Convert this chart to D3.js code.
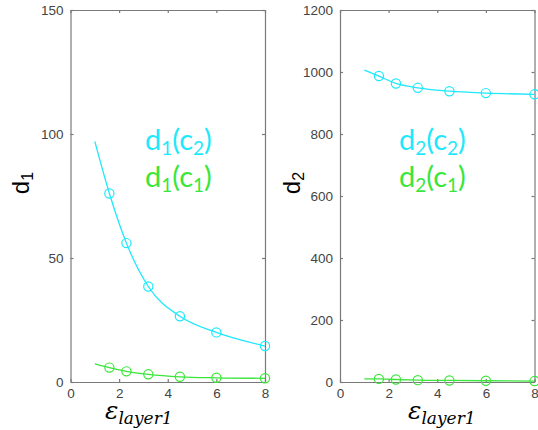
<!DOCTYPE html>
<html><head><meta charset="utf-8">
<script src="https://cdn.jsdelivr.net/npm/d3@7"></script>
<style>body{margin:0;background:#fff}svg{display:block}</style>
</head><body>
<svg id="c" width="538" height="430"></svg>
<script>
// ---- data ----
const epsX = [1.6, 2.3, 3.2, 4.5, 6, 8];
const fitX = [1, 1.6, 2.3, 3.2, 4.5, 6, 8];
const d1c2 = [76, 56, 38.5, 26.5, 20, 14.5];
const d1c1 = [5.8, 4.3, 3.1, 2.1, 1.7, 1.5];
const d1c2Fit = [97, 76, 56, 38.5, 26.5, 20, 14.5];
const d1c1Fit = [7.3, 5.8, 4.3, 3.1, 2.1, 1.7, 1.5];
const d2c2 = [987, 963, 949, 938, 932, 928];
const d2c1 = [10, 8, 6, 5, 4, 3];
const d2c2Fit = [1006, 987, 963, 949, 938, 932, 928];
const d2c1Fit = [10, 10, 8, 6, 5, 4, 3];
const xTicks = [0, 2, 4, 6, 8];
const y1Ticks = [0, 50, 100, 150];
const y2Ticks = [0, 200, 400, 600, 800, 1000, 1200];

const CYAN = "#1ee8fb", GREEN = "#3ae63a";
const svg = d3.select("#c");

function panel(opt){
  const g = svg.append("g");
  const x = d3.scaleLinear().domain([0, 8]).range([opt.x0, opt.x1]);
  const y = d3.scaleLinear().domain([0, opt.ymax]).range([382, 10]);
  const axCol = "#7a7a7a";
  const fmt = d3.format("d");
  const left = g.append("g").attr("transform", `translate(${opt.x0},0)`)
    .call(d3.axisLeft(y).tickValues(opt.yTicks).tickFormat(fmt).tickSizeInner(-3).tickSizeOuter(0).tickPadding(7));
  const right = g.append("g").attr("transform", `translate(${opt.x1},0)`)
    .call(d3.axisRight(y).tickValues(opt.yTicks).tickSizeInner(-3).tickSizeOuter(0).tickFormat(""));
  const bottom = g.append("g").attr("transform", `translate(0,382)`)
    .call(d3.axisBottom(x).tickValues(xTicks).tickFormat(fmt).tickSizeInner(-3).tickSizeOuter(0).tickPadding(6));
  const top = g.append("g").attr("transform", `translate(0,10)`)
    .call(d3.axisTop(x).tickValues(xTicks).tickSizeInner(-3).tickSizeOuter(0).tickFormat(""));
  [left, right, bottom, top].forEach(a => {
    a.selectAll("path,line").attr("stroke", axCol).attr("stroke-width", 1.2);
    a.selectAll("text").attr("fill", "#444").attr("font-family", "Liberation Sans, Arial, sans-serif").attr("font-size", 13.5);
  });
  const line = d3.line().x((d,i) => x(fitX[i])).y(d => y(d)).curve(d3.curveMonotoneX);
  [[opt.fitA, opt.ptsA, CYAN], [opt.fitB, opt.ptsB, GREEN]].forEach(([fit, pts, col]) => {
    g.append("path").attr("d", line(fit)).attr("fill", "none").attr("stroke", col).attr("stroke-width", 1.3);
    g.selectAll(null).data(pts).enter().append("circle")
      .attr("cx", (d,i) => x(epsX[i])).attr("cy", d => y(d)).attr("r", 4.6)
      .attr("fill", "none").attr("stroke", col).attr("stroke-width", 1.2);
  });
  const yl = g.append("text").attr("transform", `translate(${opt.ylx},183) rotate(-90)`)
    .attr("text-anchor", "middle").attr("font-family", "Liberation Sans, Arial, sans-serif")
    .attr("font-size", 24).attr("fill", "#000");
  yl.append("tspan").text("d");
  yl.append("tspan").text(opt.sub).attr("font-size", 16).attr("dy", 4);
  [[CYAN, "2", 150], [GREEN, "1", 187]].forEach(([col, c, by]) => {
    const t = g.append("text").attr("x", opt.lx).attr("y", by).attr("fill", col)
      .attr("font-family", "Lato, 'Open Sans', sans-serif").attr("font-size", 29);
    t.append("tspan").text("d");
    t.append("tspan").text(opt.sub).attr("font-size", 19).attr("dy", 5);
    t.append("tspan").text("(c").attr("dy", -5);
    t.append("tspan").text(c).attr("font-size", 19).attr("dy", 5);
    t.append("tspan").text(")").attr("dy", -5);
  });
  const xl = g.append("text").attr("x", opt.ex).attr("y", 419)
    .attr("font-family", "DejaVu Serif, serif").attr("font-style", "italic").attr("fill", "#000").attr("font-size", 25);
  xl.append("tspan").text("ε");
  xl.append("tspan").text("layer1").attr("font-size", 17).attr("dy", 5);
}

panel({x0: 70.5, x1: 265, ymax: 150, yTicks: y1Ticks, fitA: d1c2Fit, ptsA: d1c2, fitB: d1c1Fit, ptsB: d1c1,
  sub: "1", ylx: 29, lx: 145, ex: 105});
panel({x0: 340, x1: 534.5, ymax: 1200, yTicks: y2Ticks, fitA: d2c2Fit, ptsA: d2c2, fitB: d2c1Fit, ptsB: d2c1,
  sub: "2", ylx: 300, lx: 399, ex: 408});
</script>
</body></html>
